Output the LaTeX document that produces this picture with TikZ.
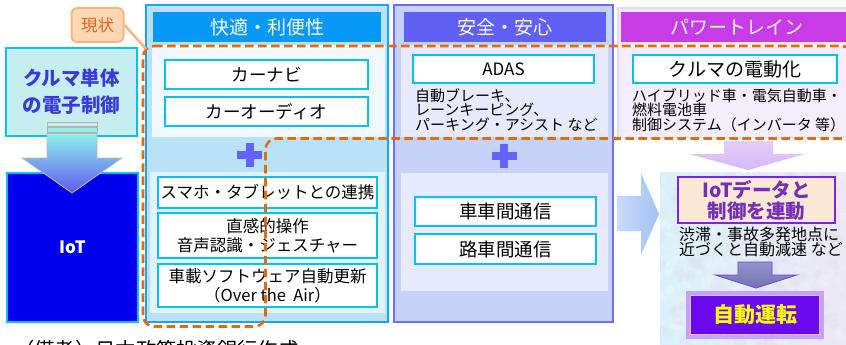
\documentclass[tikz,border=0pt]{standalone}
\usepackage{fontspec}
\setmainfont{Noto Sans CJK JP}
\newcommand\fsz[2]{\fontsize{#1pt}{#2pt}\selectfont}
\definecolor{boxcyan}{HTML}{00C4EE}
\definecolor{leftfill}{HTML}{C6EEF0}
\definecolor{lefttext}{HTML}{3A3ADC}
\definecolor{iotblue}{HTML}{0000EC}
\definecolor{callfill}{HTML}{FDD8B4}
\definecolor{calldraw}{HTML}{F8B482}
\definecolor{calltext}{HTML}{E2651A}
\definecolor{dashor}{HTML}{E36C0A}
\definecolor{c1border}{HTML}{1CA4F2}
\definecolor{c1bg}{HTML}{BAE2F6}
\definecolor{c1hdr}{HTML}{0898F8}
\definecolor{c1up}{HTML}{EEF8FE}
\definecolor{c1low}{HTML}{E2F3FC}
\definecolor{c2border}{HTML}{6C6CFF}
\definecolor{c2bg}{HTML}{C6D2F8}
\definecolor{c2hdr}{HTML}{6060F4}
\definecolor{c2reg}{HTML}{E6EAFC}
\definecolor{plusc}{HTML}{6262FF}
\definecolor{c3border}{HTML}{E6D8F8}
\definecolor{c3hdr}{HTML}{C83CE8}
\definecolor{c3reg}{HTML}{F4EEFC}
\definecolor{parrow}{HTML}{D6B8F6}
\definecolor{barrow}{HTML}{A4C2F6}
\definecolor{texbg}{HTML}{D6E4F2}
\definecolor{iotdfill}{HTML}{FBE9D6}
\definecolor{iotddraw}{HTML}{7A22EE}
\definecolor{iotdtext}{HTML}{7430B8}
\definecolor{garrow}{HTML}{8080C4}
\definecolor{autofill}{HTML}{6A08EE}
\definecolor{autodraw}{HTML}{C8A2F8}
\definecolor{autotext}{HTML}{FFFF00}
\definecolor{aqua}{HTML}{90F0E8}
\definecolor{arrowtip}{HTML}{5E5CF0}
\tikzset{
  wbox/.style={draw=boxcyan, line width=2pt, fill=white, inner sep=0pt, align=center},
  hdr/.style={inner sep=0pt, text=white, font=\fsz{19}{22}},
  plaintext/.style={inner sep=0pt, align=left, anchor=north west},
  dashline/.style={draw=dashor, line width=2.6pt, dash pattern=on 8.5pt off 4.5pt, rounded corners=11pt},
  pics/plussign/.style={code={
    \fill[plusc] (-12.5,-4) rectangle (12.5,4);
    \fill[plusc] (-4,-12) rectangle (4,12);}}
}
\begin{document}
\begin{tikzpicture}[x=1pt,y=-1pt]
\useasboundingbox (0,0) rectangle (846,345);
\clip (0,0) rectangle (846,345);

% ---------- left column ----------
\node[draw=boxcyan, line width=2pt, fill=leftfill, minimum width=131pt, minimum height=87pt,
      inner sep=0pt, align=center, text=lefttext, font=\bfseries\fsz{19.5}{27}] (single) at (71.5,92) {クルマ単体\\の電子制御};
\node[draw=boxcyan, line width=2pt, fill=iotblue, minimum width=131pt, minimum height=149pt,
      inner sep=0pt, text=white, font=\bfseries\fsz{17}{20}] (iot) at (72.5,247.5) {IoT};
\draw[gray!60, line width=0.8pt, fill=leftfill] (47,122) rectangle (97,126);
\draw[gray!60, line width=0.8pt, fill=aqua] (47,127.5) rectangle (97,132);
\shade[top color=aqua, bottom color=arrowtip, draw=gray!55, line width=0.8pt]
  (47,133.5) -- (97,133.5) -- (97,158) -- (122,158) -- (72,193) -- (22,158) -- (47,158) -- cycle;

% ---------- column 1 ----------
\draw[c1border, line width=2pt, fill=c1bg] (146,5) rectangle (388,322);
\fill[c1up] (152,45) rectangle (385,137);
\fill[c1low] (150,172) rectangle (385,313);
\node[hdr, fill=c1hdr, minimum width=228pt, minimum height=30pt] (h1) at (267,27) {快適・利便性};
\node[wbox, minimum width=203pt, minimum height=29pt, font=\fsz{17.5}{21}] (navi) at (266.5,74.5) {カーナビ};
\node[wbox, minimum width=203pt, minimum height=29pt, font=\fsz{17.5}{21}] (audio) at (266.5,111.5) {カーオーディオ};
\pic at (249.5,155) {plussign};
\node[wbox, minimum width=219pt, minimum height=31pt, font=\fsz{16.5}{20}] (smart) at (267.5,192.5) {スマホ・タブレットとの連携};
\node[wbox, minimum width=219pt, minimum height=45pt, font=\fsz{16.5}{19}] (intuit) at (267.5,235.5) {直感的操作\\音声認識・ジェスチャー};
\node[wbox, minimum width=219pt, minimum height=43pt, font=\fsz{16.5}{19}] (ota) at (267.5,285.5) {車載ソフトウェア自動更新\\（Over the~\ Air）};

% ---------- column 2 ----------
\draw[c2border, line width=2pt, fill=c2bg] (394,5) rectangle (613,322);
\fill[c2reg] (401,45) rectangle (608,137);
\fill[c2reg] (401,173) rectangle (608,291);
\node[hdr, fill=c2hdr, minimum width=202pt, minimum height=30pt] (h2) at (505,27) {安全・安心};
\node[wbox, minimum width=181pt, minimum height=28pt, font=\fsz{17}{20}] (adas) at (503.5,69) {ADAS};
\node[plaintext, font=\fsz{15}{14.5}] (adastext) at (415,88) {自動ブレーキ、\\レーンキーピング、\\パーキング・アシスト など};
\pic at (504,156) {plussign};
\node[wbox, minimum width=181pt, minimum height=29pt, font=\fsz{18.5}{21}] (v2v) at (505.5,211.5) {車車間通信};
\node[wbox, minimum width=181pt, minimum height=30pt, font=\fsz{18.5}{21}] (r2v) at (505.5,249) {路車間通信};

% ---------- column 3 ----------
\draw[c3border, line width=2pt, fill=c3reg!80!c3border] (618,8) rectangle (852,137);
\fill[c3reg] (621,45) rectangle (852,137);
\node[hdr, fill=c3hdr, minimum width=231pt, minimum height=30pt] (h3) at (736.5,27) {パワートレイン};
\node[wbox, minimum width=204pt, minimum height=28pt, font=\fsz{19}{22}] (elec) at (735,69) {クルマの電動化};
\node[plaintext, font=\fsz{15}{14.5}] (electext) at (632,88) {ハイブリッド車・電気自動車・\\燃料電池車\\制御システム（インバータ 等）};

% purple down arrow
\shade[top color=parrow!70!white, bottom color=parrow]
  (724,141) -- (773,141) -- (773,154) -- (805,154) -- (748,170) -- (689,154) -- (724,154) -- cycle;

% textured region
\shade[left color=texbg!90!cyan!60!white, right color=texbg!85!violet!40!white] (660,172) rectangle (846,345);
\begin{scope}
  \clip (660,172) rectangle (846,345);
  \pgfmathsetseed{7}
  \foreach \i in {1,...,260} {
    \pgfmathsetmacro\xx{660+rnd*186}
    \pgfmathsetmacro\yy{172+rnd*173}
    \pgfmathsetmacro\rr{2+rnd*5}
    \fill[white, opacity=0.16] (\xx,\yy) circle[radius=\rr pt];
  }
  \foreach \i in {1,...,160} {
    \pgfmathsetmacro\xx{660+rnd*186}
    \pgfmathsetmacro\yy{172+rnd*173}
    \pgfmathsetmacro\rr{2+rnd*5}
    \fill[violet!25!white, opacity=0.10] (\xx,\yy) circle[radius=\rr pt];
  }
\end{scope}

% big right arrow
\shade[left color=barrow!60!white, right color=barrow]
  (617,196) -- (641,196) -- (641,173) -- (659,214) -- (641,255) -- (641,231) -- (617,231) -- cycle;

\node[draw=iotddraw, line width=2.5pt, fill=iotdfill, minimum width=157pt, minimum height=46pt,
      inner sep=0pt, align=center, text=iotdtext, font=\bfseries\fsz{19.5}{21}] (iotdata) at (756.5,200) {IoTデータと\\制御を連動};
\node[plaintext, font=\fsz{16}{15}] (slowtext) at (679,227) {渋滞・事故多発地点に\\近づくと自動減速 など};
\shade[top color=garrow!85!white, bottom color=garrow!90!black, draw=iotddraw!70!garrow, line width=0.8pt]
  (738,262) -- (772,262) -- (772,275) -- (797,275) -- (756,288) -- (715,275) -- (738,275) -- cycle;
\node[draw=autodraw, line width=4pt, fill=autofill, minimum width=134pt, minimum height=44pt,
      inner sep=0pt, text=autotext, font=\bfseries\fsz{21}{24}] (auto) at (755,315) {自動運転};
\draw[autodraw!70!white, line width=0.7pt] ([shift={(4.5pt,-4.5pt)}]auto.north west) rectangle ([shift={(-4.5pt,4.5pt)}]auto.south east);

% ---------- current-state dashed outline & callout ----------
\draw[dashline] (143,46) -- (853,46) -- (853,138.5) -- (265.5,138.5) -- (265.5,326.5) -- (143,326.5) -- cycle;
\node[draw=calldraw, line width=2pt, fill=callfill, rounded corners=6pt, minimum width=52pt,
      minimum height=34pt, inner sep=0pt, text=calltext, font=\fsz{16.5}{19}] (genjo) at (97.5,25) {現状};
\coordinate (tailend) at (146,49);
\draw[calldraw, line width=2.5pt] (genjo.east) -- (tailend);

% footnote (cut off at bottom, as in the reference)
\node[inner sep=0pt, anchor=base west, font=\fsz{20.3}{24}] (note) at (14,357) {（備考）日本政策投資銀行作成};
\end{tikzpicture}
\end{document}
